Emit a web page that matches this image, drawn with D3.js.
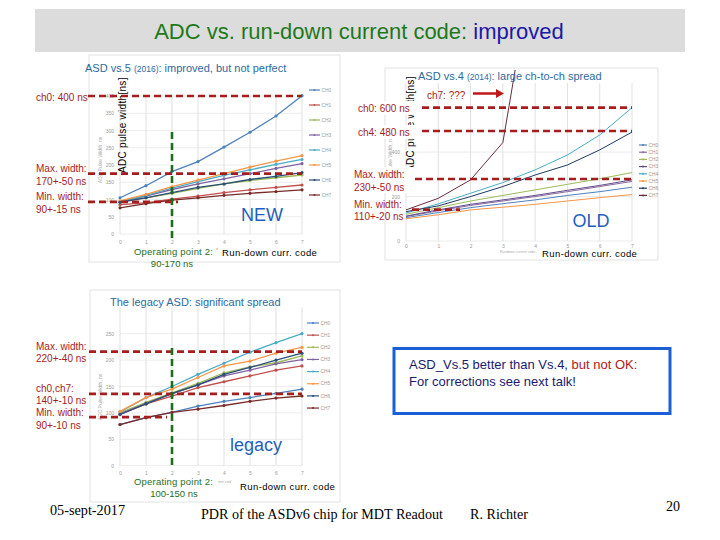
<!DOCTYPE html>
<html><head><meta charset="utf-8">
<script src="https://cdn.jsdelivr.net/npm/d3@7"></script>
<style>body{margin:0;background:#fff}svg{display:block}text{font-family:"Liberation Sans",Arial,sans-serif}</style>
</head><body><svg id="c" width="720" height="540"></svg>
<script>
// ---------- data ----------
const codes = [0,1,2,3,4,5,6,7];
const channelNames = ["CH0","CH1","CH2","CH3","CH4","CH5","CH6","CH7"];
const chColors = ["#4f81bd","#c0504d","#9bbb59","#8064a2","#4bacc6","#f79646","#2c4d75","#772c2a"];
// ASD vs.5 (2016) – NEW
const newValues = [
  [105,140,181,210,252,295,342,401],
  [85,90,101,110,120,128,135,142],
  [95,105,118,132,145,155,163,171],
  [93,110,129,145,160,175,190,204],
  [94,112,133,152,170,186,202,216],
  [96,115,137,156,175,194,211,227],
  [92,105,120,135,145,158,167,178],
  [76,88,98,105,112,118,123,128]
];
const newYTicks = [0,50,100,150,200,250,300,350,400];
const newRefLines = [400,175,93];
// ASD vs.4 (2014) – OLD
const oldColors = ["#4f81bd","#8d6a9f","#9bbb59","#5f4b8b","#4bacc6","#f79646","#1f3a5f","#6b2c3a"];
const oldValues = [
  [105,128,150,168,185,205,222,242],
  [110,136,160,180,200,222,245,268],
  [120,150,180,205,230,255,280,308],
  [112,140,165,185,205,228,250,275],
  [126,167,215,263,320,387,477,600],
  [100,118,140,152,165,180,195,209],
  [132,158,200,245,297,342,410,490],
  [140,192,275,443,1300,null,null,null]
];
const oldYTicks = [0,200,400];
const oldRefLines = [600,495,279,141];
// legacy ASD
const legacyValues = [
  [78,91,101,113,122,129,137,145],
  [97,117,132,148,159,170,181,189],
  [100,120,138,156,176,187,195,208],
  [98,118,136,153,170,181,193,201],
  [102,129,150,173,194,215,233,250],
  [103,129,145,167,189,198,213,224],
  [97,117,137,153,173,186,200,213],
  [78,91,101,107,114,122,128,132]
];
const legacyYTicks = [0,50,100,150,200,250];
const legacyRefLines = [216,136,92];
const operatingCode = 2;

// ---------- drawing ----------
const svg = d3.select("#c");
const RED = "#a51d1d", GREEN = "#1e6e1e", TBLUE = "#2e6aa0";

function drawChart(cfg, id){
  const g = svg.append("g");
  const x = d3.scaleLinear().domain([0,7]).range(cfg.xr);
  const y = d3.scaleLinear().domain(cfg.yd).range(cfg.yr);
  g.append("rect").attr("x",cfg.frame[0]).attr("y",cfg.frame[1]).attr("width",cfg.frame[2]).attr("height",cfg.frame[3])
    .attr("fill","#fff").attr("stroke","#e2e2e2");
  g.selectAll("line.hg").data(cfg.yTicks).join("line").attr("class","hg")
    .attr("x1",cfg.xr[0]).attr("x2",cfg.xr[1]).attr("y1",d=>y(d)).attr("y2",d=>y(d)).attr("stroke","#ececec");
  g.selectAll("line.vg").data(codes).join("line").attr("class","vg")
    .attr("x1",d=>x(d)).attr("x2",d=>x(d)).attr("y1",cfg.yr[0]).attr("y2",cfg.yr[1]).attr("stroke","#e0e0e0");
  const ax = g.append("g").attr("transform",`translate(0,${cfg.yr[0]+cfg.xTickGap})`)
    .call(d3.axisBottom(x).tickValues(codes).tickSize(0).tickFormat(d3.format("d")));
  ax.select(".domain").remove();
  ax.selectAll("text").attr("font-size",5).attr("fill","#9a9a9a");
  const ay = g.append("g").attr("transform",`translate(${cfg.xr[0]-3},0)`)
    .call(d3.axisLeft(y).tickValues(cfg.yTicks).tickSize(0));
  ay.select(".domain").remove();
  ay.selectAll("text").attr("font-size",5).attr("fill","#9a9a9a");
  g.append("text").attr("transform",`translate(${cfg.yTitleX},${cfg.yTitleY}) rotate(-90)`)
    .attr("text-anchor","middle").attr("font-size",5).attr("fill","#aaa").text("ADC Pulse Width, ns");
  g.append("clipPath").attr("id",id).append("rect")
    .attr("x",cfg.xr[0]-3).attr("y",cfg.clipTop).attr("width",cfg.xr[1]-cfg.xr[0]+8).attr("height",cfg.yr[0]-cfg.clipTop+3);
  const line = d3.line().defined(d=>d!=null).x((d,i)=>x(codes[i])).y(d=>y(d));
  const pg = g.append("g").attr("clip-path",`url(#${id})`);
  cfg.values.forEach((vals,k)=>{
    pg.append("path").attr("d",line(vals)).attr("fill","none").attr("stroke",cfg.colors[k]).attr("stroke-width",cfg.sw);
    if(cfg.markers){
      pg.selectAll(null).data(vals.map((v,i)=>[codes[i],v]).filter(d=>d[1]!=null)).join("circle")
        .attr("cx",d=>x(d[0])).attr("cy",d=>y(d[1])).attr("r",1.6).attr("fill",cfg.colors[k]);
    }
  });
  const lg = g.append("g");
  channelNames.forEach((n,k)=>{
    const ly = cfg.legend.y0 + k*cfg.legend.dy;
    lg.append("line").attr("x1",cfg.legend.x).attr("x2",cfg.legend.x+cfg.legend.w).attr("y1",ly).attr("y2",ly)
      .attr("stroke",cfg.colors[k]).attr("stroke-width",1.2);
    lg.append("circle").attr("cx",cfg.legend.x+cfg.legend.w/2).attr("cy",ly).attr("r",1).attr("fill",cfg.colors[k]);
    lg.append("text").attr("x",cfg.legend.x+cfg.legend.w+1.5).attr("y",ly+1.7).attr("font-size",4.8).attr("fill","#999").text(n);
  });
  return {x,y};
}

// title bar
svg.append("rect").attr("x",35).attr("y",9).attr("width",650).attr("height",43).attr("fill","#dcdcdc");
const tt = svg.append("text").attr("x",359).attr("y",39).attr("text-anchor","middle").attr("font-size",22);
tt.append("tspan").attr("fill","#1c7a1c").text("ADC vs. run-down current code: ");
tt.append("tspan").attr("fill","#1a1aa6").text("improved");

// charts
const c1 = drawChart({xr:[120,302], yd:[0,400], yr:[234,96], clipTop:84, yTicks:newYTicks, values:newValues, colors:chColors, xTickGap:3,
  frame:[89,55,251,207], yTitleX:102, yTitleY:160, sw:1.3, markers:true, legend:{x:309,y0:90,dy:15,w:11}}, "clip1");
const c2 = drawChart({xr:[406,632], yd:[0,710], yr:[241,83.2], clipTop:70, yTicks:oldYTicks, values:oldValues, colors:oldColors, xTickGap:0,
  frame:[385,68,273,192], yTitleX:392, yTitleY:160, sw:1, markers:false, legend:{x:639,y0:145,dy:7.2,w:8}}, "clip2");
const c3 = drawChart({xr:[120,302], yd:[0,300], yr:[465.7,307.3], clipTop:307, yTicks:legacyYTicks, values:legacyValues, colors:chColors, xTickGap:3,
  frame:[90,290,250,212], yTitleX:102, yTitleY:397, sw:1.3, markers:true, legend:{x:307,y0:323,dy:12.15,w:12}}, "clip3");

function txt(x,y,s,o={}){
  const t = svg.append("text").attr("x",x).attr("y",y).attr("font-size",o.fs||10).attr("fill",o.fill||"#000")
    .attr("text-anchor",o.anchor||"start").text(s);
  if(o.ls) t.attr("letter-spacing",o.ls);
  if(o.family) t.style("font-family",o.family);
  if(o.len) t.attr("textLength",o.len).attr("lengthAdjust","spacingAndGlyphs");
  return t;
}
function vtext(xb,yb,s){
  svg.append("text").attr("transform",`translate(${xb},${yb}) rotate(-90)`).attr("font-size",10).attr("fill","#000")
    .attr("letter-spacing",0.3).text(s);
}
function dashH(x1,x2,yy,color){
  svg.append("line").attr("x1",x1).attr("x2",x2).attr("y1",yy).attr("y2",yy)
    .attr("stroke",color||RED).attr("stroke-width",2.6).attr("stroke-dasharray","7,4");
}
function dashV(xx,y1,y2){
  svg.append("line").attr("x1",xx).attr("x2",xx).attr("y1",y1).attr("y2",y2)
    .attr("stroke",GREEN).attr("stroke-width",2.6).attr("stroke-dasharray","7,4");
}
function title(x,y,a,b,c){
  const t = svg.append("text").attr("x",x).attr("y",y).attr("font-size",11).attr("fill",TBLUE);
  t.append("tspan").text(a); t.append("tspan").attr("font-size",8.5).text(b); t.append("tspan").text(c);
}

// ----- chart 1 annotations -----
title(85,72,"ASD vs.5 ","(2016)",": improved, but not perfect");
vtext(126,173,"ADC pulse width[ns]");
dashH(88,302,c1.y(newRefLines[0]));
dashH(88,302,c1.y(newRefLines[1]));
dashH(88,178,c1.y(newRefLines[2]));
dashV(c1.x(operatingCode),132,242);
txt(36,101,"ch0: 400 ns",{fill:RED});
txt(36,172,"Max. width:",{fill:RED});
txt(36,185,"170+-50 ns",{fill:RED});
txt(36,200,"Min. width:",{fill:RED});
txt(36,213,"90+-15 ns",{fill:RED});
txt(262,221,"NEW",{fs:18,fill:"#1f5fbf",anchor:"middle"});
txt(134,255,"Operating point 2:",{fs:9.5,fill:GREEN,ls:0.2});
txt(172,267,"90-170 ns",{fs:9.5,fill:GREEN,anchor:"middle"});
txt(216,252,"*",{fs:5,fill:"#999"});
txt(222,256,"Run-down curr. code",{fs:9.5,ls:0.4});

// ----- chart 2 annotations -----
title(418,80,"ASD vs.4 ","(2014)",": large ch-to-ch spread");
vtext(414,172,"ADC pulse width[ns]");
svg.append("rect").attr("x",355).attr("y",101).attr("width",62).attr("height",14).attr("fill","#fff");
svg.append("rect").attr("x",355).attr("y",125).attr("width",62).attr("height",14).attr("fill","#fff");
svg.append("rect").attr("x",352).attr("y",167).attr("width",64).attr("height",26).attr("fill","#fff");
dashH(422,632,c2.y(oldRefLines[0]));
dashH(422,632,c2.y(oldRefLines[1]));
dashH(415,632,c2.y(oldRefLines[2]));
dashH(412,460,c2.y(oldRefLines[3]));
txt(427,99,"ch7: ???",{fill:RED});
svg.append("line").attr("x1",473).attr("x2",497).attr("y1",93.5).attr("y2",93.5).attr("stroke","#c01818").attr("stroke-width",2.5);
svg.append("path").attr("d","M496,89 L504,93.5 L496,98 Z").attr("fill","#c01818");
txt(358,111.5,"ch0: 600 ns",{fill:RED});
txt(358,135.5,"ch4: 480 ns",{fill:RED});
txt(354,178,"Max. width:",{fill:RED});
txt(354,191,"230+-50 ns",{fill:RED});
txt(354,208,"Min. width:",{fill:RED});
txt(354,220,"110+-20 ns",{fill:RED});
txt(591,227,"OLD",{fs:18,fill:"#1f5fbf",anchor:"middle"});
txt(500,253,"Rundown current code",{fs:3.5,fill:"#aaa"});
txt(542,257,"Run-down curr. code",{fs:9.5,ls:0.4});

// ----- chart 3 annotations -----
title(110,306,"The legacy ASD: significant spread","","");
dashH(89,302,c3.y(legacyRefLines[0]));
dashH(89,302,c3.y(legacyRefLines[1]));
dashH(89,167,c3.y(legacyRefLines[2]));
dashV(c3.x(operatingCode),348,468);
txt(36,350,"Max. width:",{fill:RED});
txt(36,362,"220+-40 ns",{fill:RED});
txt(36,392,"ch0,ch7:",{fill:RED});
txt(36,404,"140+-10 ns",{fill:RED});
txt(36,416,"Min. width:",{fill:RED});
txt(36,429,"90+-10 ns",{fill:RED});
txt(256,451,"legacy",{fs:18,fill:"#1f5fbf",anchor:"middle"});
txt(134,485,"Operating point 2:",{fs:9.5,fill:GREEN,ls:0.2});
txt(174,497,"100-150 ns",{fs:9.5,fill:GREEN,anchor:"middle"});
txt(218,483,"ent cod",{fs:4,fill:"#aaa"});
txt(240,490,"Run-down curr. code",{fs:9.5,ls:0.4});

// ----- blue box -----
svg.append("rect").attr("x",394).attr("y",348.5).attr("width",276).attr("height",65).attr("fill","#fff")
  .attr("stroke","#1a5fd6").attr("stroke-width",3);
const bt = svg.append("text").attr("x",409).attr("y",369).attr("font-size",13);
bt.append("tspan").attr("fill","#1b1b6e").text("ASD_Vs.5 better than Vs.4, ");
bt.append("tspan").attr("fill","#b02020").text("but not OK:");
txt(409,386,"For corrections see next talk!",{fs:13,fill:"#1b1b6e"});

// ----- footer -----
const serif = '"Liberation Serif","Times New Roman",serif';
txt(50,515,"05-sept-2017",{fs:14,family:serif,len:75});
txt(201,519,"PDR of the ASDv6 chip for MDT Readout",{fs:14,family:serif,len:242});
txt(470,519,"R. Richter",{fs:14,family:serif,len:58});
txt(666,511,"20",{fs:14,family:serif});
</script></body></html>
